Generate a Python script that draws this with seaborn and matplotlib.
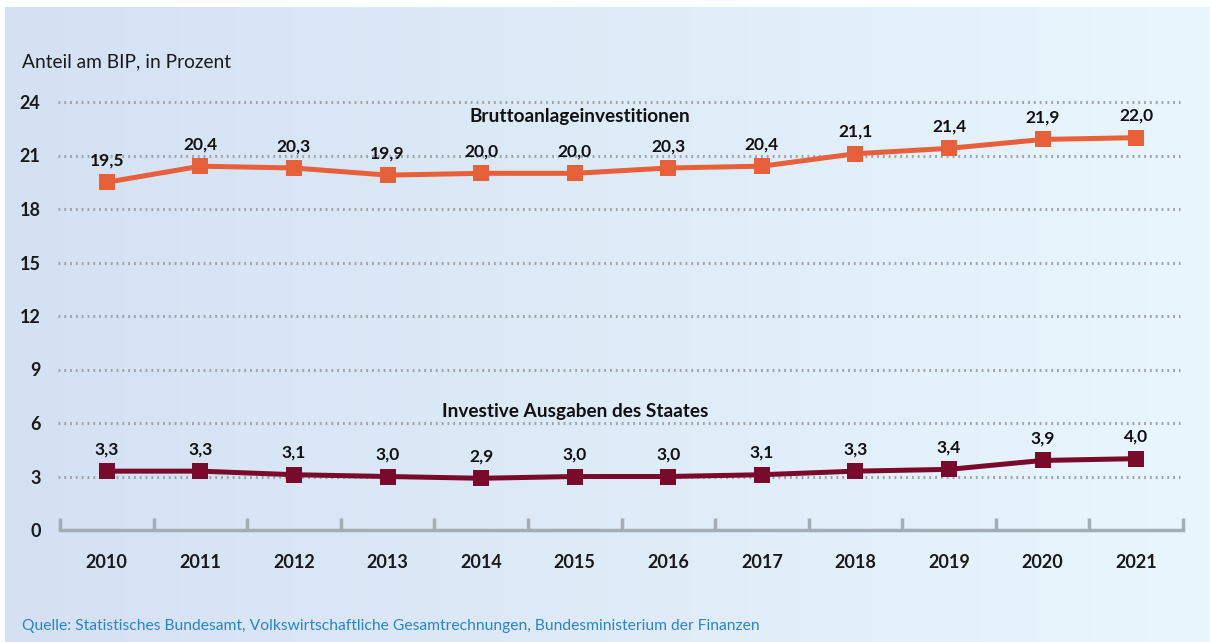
import numpy as np
import pandas as pd
import matplotlib
matplotlib.use("Agg")
import matplotlib.pyplot as plt
import seaborn as sns
from matplotlib.colors import LinearSegmentedColormap

years = [2010, 2011, 2012, 2013, 2014, 2015, 2016, 2017, 2018, 2019, 2020, 2021]
brutto = [19.5, 20.4, 20.3, 19.9, 20.0, 20.0, 20.3, 20.4, 21.1, 21.4, 21.9, 22.0]
staat = [3.3, 3.3, 3.1, 3.0, 2.9, 3.0, 3.0, 3.1, 3.3, 3.4, 3.9, 4.0]
series_names = ["Bruttoanlageinvestitionen", "Investive Ausgaben des Staates"]
yticks = [0, 3, 6, 9, 12, 15, 18, 21, 24]

df = pd.DataFrame({
    "Jahr": years * 2,
    "Wert": brutto + staat,
    "Reihe": [series_names[0]] * len(years) + [series_names[1]] * len(years),
})

sns.set_theme(style="white")
plt.rcParams["font.family"] = ["Lato", "DejaVu Sans"]

fig = plt.figure(figsize=(12.1, 6.42), dpi=100)
fig.patch.set_facecolor("white")

# gradient background panel
bg = fig.add_axes([5 / 1210, 0, 1 - 5 / 1210, 1 - 7 / 642], zorder=-10)
cmap = LinearSegmentedColormap.from_list("bg", ["#d3e1f3", "#e9f6fd"])
bg.imshow(np.linspace(0, 1, 256)[None, :], aspect="auto", cmap=cmap, extent=[0, 1, 0, 1])
bg.set_axis_off()

ax = fig.add_axes([60 / 1210, (642 - 530) / 642, 1123 / 1210, 428 / 642])
ax.patch.set_alpha(0)

palette = {series_names[0]: "#e8603a", series_names[1]: "#790a2b"}
sns.lineplot(data=df, x="Jahr", y="Wert", hue="Reihe", palette=palette, marker="s",
             markersize=12, markeredgewidth=0, linewidth=3.6, ax=ax, legend=False,
             clip_on=False, zorder=5)

ax.set_xlim(2009.5, 2021.5)
ax.set_ylim(0, 24)
ax.set_xlabel("")
ax.set_ylabel("")

for y in yticks[1:]:
    ax.axhline(y, xmin=-0.002, xmax=0.997, color="#a0a4a8", linewidth=2.2,
               linestyle=(0, (0.6, 1.3)), zorder=1, clip_on=False)

for s in ["top", "right", "left"]:
    ax.spines[s].set_visible(False)
ax.spines["bottom"].set_color("#a3adb5")
ax.spines["bottom"].set_linewidth(2.5)

ax.set_xticks(years)
ax.set_xticklabels([str(y) for y in years], fontsize=13, fontweight="bold", color="#1a1a1a")
ax.set_xticks(np.arange(2009.5, 2022, 1), minor=True)
ax.tick_params(axis="x", which="major", bottom=False, length=0, pad=17)
ax.tick_params(axis="x", which="minor", bottom=True, direction="in", length=9, width=2.5,
               color="#a3adb5")
ax.set_yticks(yticks)
ax.set_yticklabels([str(y) for y in yticks], fontsize=13, fontweight="bold", color="#1a1a1a")
ax.tick_params(axis="y", length=0, pad=14)

for x, v in zip(years, brutto):
    ax.annotate(f"{v:.1f}".replace(".", ","), (x, v), xytext=(0, 10), textcoords="offset points",
                ha="center", va="bottom", fontsize=12.5, fontweight="bold", color="#111111")
for x, v in zip(years, staat):
    ax.annotate(f"{v:.1f}".replace(".", ","), (x, v), xytext=(0, 10), textcoords="offset points",
                ha="center", va="bottom", fontsize=12.5, fontweight="bold", color="#111111")

ax.text(2015.06, 23.2, series_names[0], ha="center", va="center", fontsize=13.7,
        fontweight="bold", color="#111111")
ax.text(2015.0, 6.62, series_names[1], ha="center", va="center", fontsize=13.7,
        fontweight="bold", color="#111111")

fig.text(22 / 1210, 1 - 62 / 642, "Anteil am BIP, in Prozent", ha="left", va="center",
         fontsize=13.8, color="#1a1a1a")
fig.text(22 / 1210, 1 - 626 / 642,
         "Quelle: Statistisches Bundesamt, Volkswirtschaftliche Gesamtrechnungen, Bundesministerium der Finanzen",
         ha="left", va="center", fontsize=11.25, color="#2a84c6")

fig.savefig("out.png", dpi=100)
